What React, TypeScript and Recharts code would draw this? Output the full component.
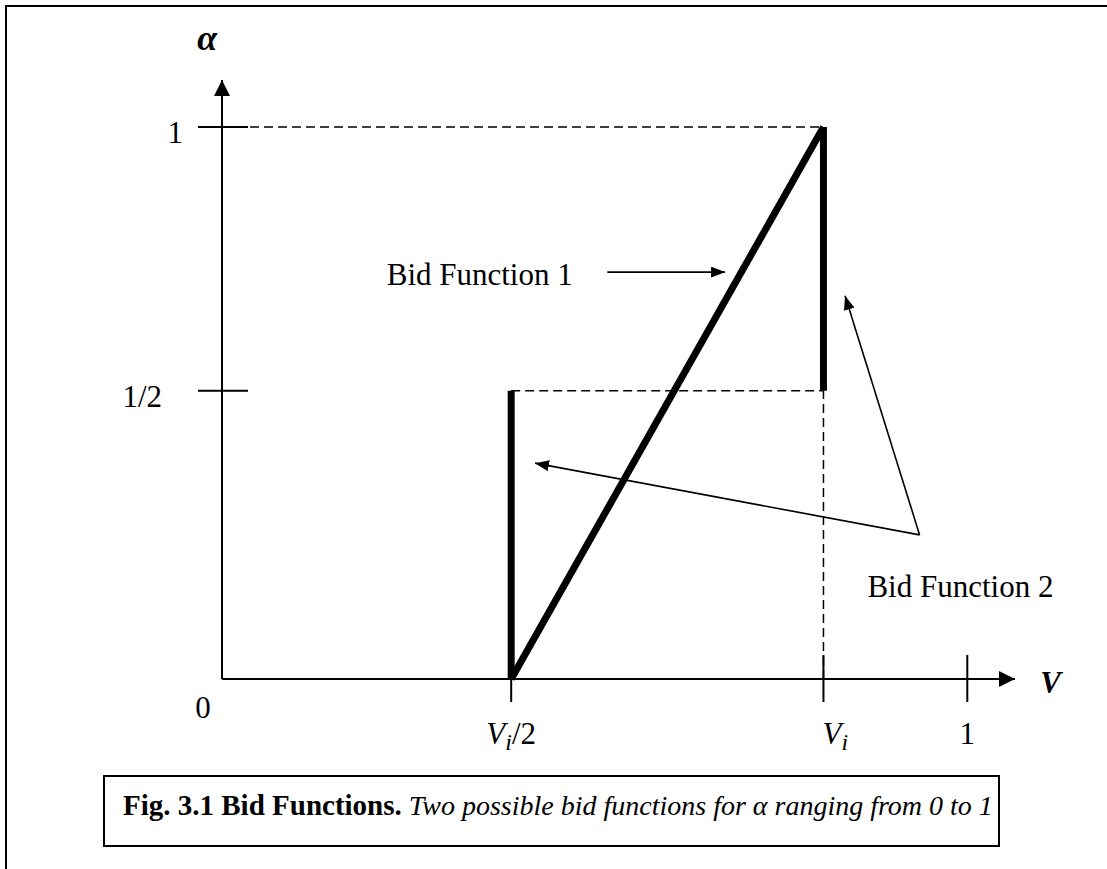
import { LineChart, Line, XAxis, YAxis, ReferenceDot } from 'recharts';

// values (axis units: V across, alpha up)
const VI_HALF = 0.388;
const VI = 0.807;
const HALF = 0.522;

const X_TICKS = [0, VI_HALF, VI, 1];
const X_TICK_LABELS = ['0', 'V_i/2', 'V_i', '1'];
const Y_TICKS = [HALF, 1];
const Y_TICK_LABELS = ['1/2', '1'];

const bidFunction1 = [
  { v: VI_HALF, a: 0 },
  { v: VI, a: 1 },
];
const bidFunction2Low = [
  { v: VI_HALF, a: 0 },
  { v: VI_HALF, a: HALF },
];
const bidFunction2High = [
  { v: VI, a: HALF },
  { v: VI, a: 1 },
];

const guideTop = [
  { v: 0, a: 1 },
  { v: VI, a: 1 },
];
const guideHalf = [
  { v: VI_HALF, a: HALF },
  { v: VI, a: HALF },
];
const guideVi = [
  { v: VI, a: 0 },
  { v: VI, a: HALF },
];

const arrowBid1 = [
  { v: 0.517, a: 0.737 },
  { v: 0.675, a: 0.737 },
];
const arrowBid2Left = [
  { v: 0.936, a: 0.261 },
  { v: 0.42, a: 0.391 },
];
const arrowBid2Right = [
  { v: 0.936, a: 0.261 },
  { v: 0.836, a: 0.694 },
];

const annotations = [
  { v: 0.221, a: 0.714, text: 'Bid Function 1' },
  { v: 0.866, a: 0.149, text: 'Bid Function 2' },
];

const FONT = '"Liberation Serif", "Times New Roman", serif';

function Subscripted({ label }: { label: string }) {
  if (!label.startsWith('V_i')) return <>{label}</>;
  const rest = label.slice(3);
  return (
    <>
      <tspan fontStyle="italic">V</tspan>
      <tspan fontStyle="italic" fontSize={24} dy={6}>i</tspan>
      {rest && <tspan dy={-6}>{rest}</tspan>}
    </>
  );
}

function XTick(props: any) {
  const { x, y, index } = props;
  const label = X_TICK_LABELS[index];
  if (X_TICKS[index] === 0) {
    return (
      <text x={x - 19} y={y + 39} textAnchor="middle" fontSize={31} fontFamily={FONT} fill="#000">
        {label}
      </text>
    );
  }
  const plainSub = label === 'V_i';
  return (
    <g>
      <line x1={x} x2={x} y1={y - 24} y2={y + 23} stroke="#000" strokeWidth={2} />
      <text
        x={plainSub ? x - 1 : x}
        y={y + 65}
        textAnchor={plainSub ? 'start' : 'middle'}
        fontSize={31}
        fontFamily={FONT}
        fill="#000"
      >
        <Subscripted label={label} />
      </text>
    </g>
  );
}

function YTick(props: any) {
  const { x, y, index } = props;
  const label = Y_TICK_LABELS[index];
  return (
    <g>
      <line x1={x - 24} x2={x + 26} y1={y} y2={y} stroke="#000" strokeWidth={2} />
      <text
        x={x - (label.length > 1 ? 60 : 39)}
        y={y + 16}
        textAnchor="end"
        fontSize={31}
        fontFamily={FONT}
        fill="#000"
      >
        {label}
      </text>
    </g>
  );
}

const textShape = (text: string, anchor: 'start' | 'middle', opts: any = {}) => (p: any) => (
  <text x={p.cx} y={p.cy} textAnchor={anchor} fontSize={31} fontFamily={FONT} fill="#000" {...opts}>
    {text}
  </text>
);

export default function App() {
  return (
    <div style={{ position: 'absolute', left: 0, top: 0, width: 1107, height: 869, background: '#fff', overflow: 'hidden' }}>
      <div
        style={{
          position: 'absolute',
          left: 5,
          top: 5,
          width: 1120,
          height: 880,
          borderTop: '2px solid #000',
          borderLeft: '2px solid #000',
        }}
      />
      <div style={{ position: 'absolute', left: 0, top: 0 }}>
        <LineChart width={1107} height={869} margin={{ top: 80, right: 92, bottom: 160, left: 162 }}>
          <defs>
            <marker id="axisArrow" viewBox="0 0 16 16" refX={16} refY={8} markerWidth={16} markerHeight={16} markerUnits="userSpaceOnUse" orient="auto-start-reverse">
              <path d="M0,0 L16,8 L0,16 z" fill="#000" />
            </marker>
            <marker id="noteArrow" viewBox="0 0 14 11" refX={14} refY={5.5} markerWidth={14} markerHeight={11} markerUnits="userSpaceOnUse" orient="auto">
              <path d="M0,0 L14,5.5 L0,11 z" fill="#000" />
            </marker>
          </defs>
          <XAxis
            type="number"
            dataKey="v"
            domain={[0, 1.064]}
            ticks={X_TICKS}
            interval={0}
            height={30}
            tickSize={0}
            tickMargin={0}
            tickLine={false}
            tick={XTick}
            axisLine={{ stroke: '#000', strokeWidth: 2, markerEnd: 'url(#axisArrow)' } as any}
          />
          <YAxis
            type="number"
            dataKey="a"
            domain={[0, 1.085]}
            ticks={Y_TICKS}
            interval={0}
            width={60}
            tickSize={0}
            tickMargin={0}
            tickLine={false}
            tick={YTick}
            axisLine={{ stroke: '#000', strokeWidth: 2, markerStart: 'url(#axisArrow)' } as any}
          />

          <Line data={guideTop} dataKey="a" type="linear" stroke="#000" strokeWidth={1.5} strokeDasharray="9 5" dot={false} activeDot={false} isAnimationActive={false} />
          <Line data={guideHalf} dataKey="a" type="linear" stroke="#000" strokeWidth={1.5} strokeDasharray="9 5" dot={false} activeDot={false} isAnimationActive={false} />
          <Line data={guideVi} dataKey="a" type="linear" stroke="#000" strokeWidth={1.5} strokeDasharray="9 5" dot={false} activeDot={false} isAnimationActive={false} />

          <Line data={bidFunction1} dataKey="a" type="linear" stroke="#000" strokeWidth={7} dot={false} activeDot={false} isAnimationActive={false} />
          <Line data={bidFunction2Low} dataKey="a" type="linear" stroke="#000" strokeWidth={7} dot={false} activeDot={false} isAnimationActive={false} />
          <Line data={bidFunction2High} dataKey="a" type="linear" stroke="#000" strokeWidth={7} dot={false} activeDot={false} isAnimationActive={false} />

          <Line data={arrowBid1} dataKey="a" type="linear" stroke="#000" strokeWidth={1.6} markerEnd="url(#noteArrow)" dot={false} activeDot={false} isAnimationActive={false} />
          <Line data={arrowBid2Left} dataKey="a" type="linear" stroke="#000" strokeWidth={1.6} markerEnd="url(#noteArrow)" dot={false} activeDot={false} isAnimationActive={false} />
          <Line data={arrowBid2Right} dataKey="a" type="linear" stroke="#000" strokeWidth={1.6} markerEnd="url(#noteArrow)" dot={false} activeDot={false} isAnimationActive={false} />

          {annotations.map((n) => (
            <ReferenceDot key={n.text} x={n.v} y={n.a} r={1} ifOverflow="visible" shape={textShape(n.text, 'start')} />
          ))}
          <ReferenceDot x={-0.02} y={1.139} r={1} ifOverflow="visible" shape={textShape('α', 'middle', { fontSize: 36, fontStyle: 'italic', fontWeight: 'bold' })} />
          <ReferenceDot x={1.098} y={-0.025} r={1} ifOverflow="visible" shape={textShape('V', 'start', { fontStyle: 'italic', fontWeight: 'bold' })} />
        </LineChart>
      </div>
      <div
        style={{
          position: 'absolute',
          left: 103,
          top: 775,
          width: 897,
          height: 72,
          boxSizing: 'border-box',
          border: '2px solid #000',
          padding: '12px 0 0 18px',
          fontFamily: FONT,
          fontSize: 28,
          lineHeight: '32px',
          whiteSpace: 'nowrap',
        }}
      >
        <b style={{ fontSize: 29 }}>Fig. 3.1 Bid Functions.</b> <i>Two possible bid functions for α ranging from 0 to 1</i>
      </div>
    </div>
  );
}
